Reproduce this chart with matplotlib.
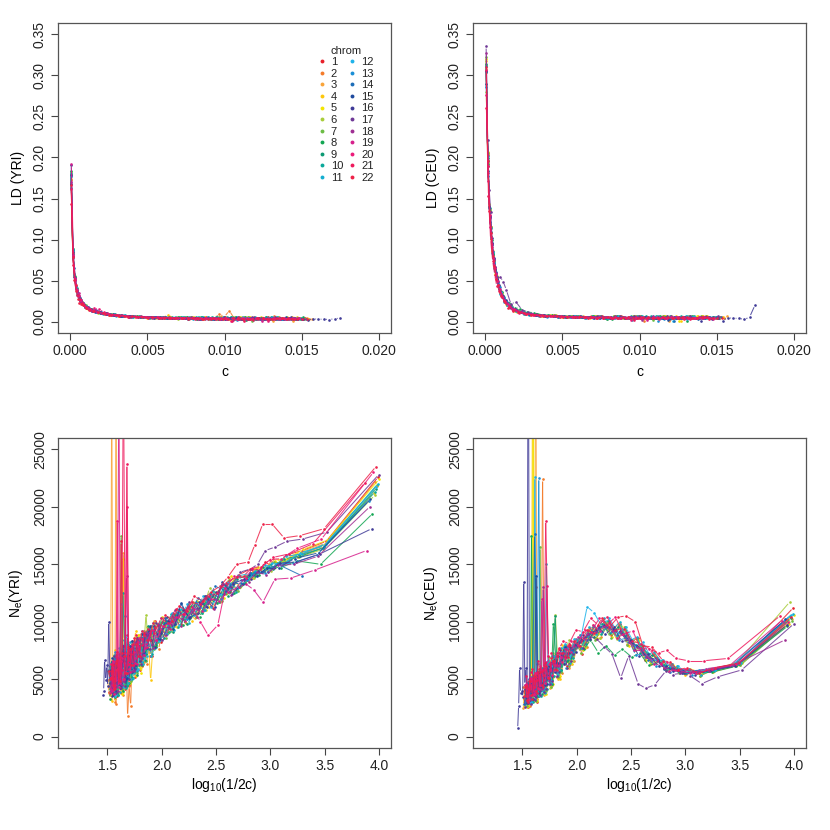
import numpy as np
import matplotlib
matplotlib.use("Agg")
import matplotlib.pyplot as plt
from matplotlib.collections import LineCollection
from matplotlib.lines import Line2D

plt.rcParams['font.family'] = ['Liberation Sans', 'DejaVu Sans']
plt.rcParams['mathtext.fontset'] = 'custom'
plt.rcParams['mathtext.rm'] = 'Liberation Sans'
plt.rcParams['mathtext.it'] = 'Liberation Sans:italic'

# %% data
chroms = [str(i) for i in range(1, 23)]
chrom_colors = ['#e8202a', '#f47b2a', '#f9a43a', '#fdc70c', '#f3e500', '#a8cd3a',
                '#6cbd45', '#12a652', '#0c9a73', '#0aa89a', '#14aed0', '#1fb3ea',
                '#1a8fd6', '#1d6db8', '#1f4a9e', '#3f3a97', '#6e3896', '#9f2f93',
                '#d6208c', '#ec1b7a', '#ee1a5d', '#ee2248']

# distance bin index (shared), bin midpoint c = (bin - 0.5) * bin width
bin_index = [1, 2, 3, 4, 5, 6, 7, 8, 10, 12, 14, 17, 20, 24, 28, 33, 38, 44, 50, 57,
             64, 72, 78, 84, 90, 96, 102, 108, 114, 120, 126, 132, 138, 144, 150]
# extra bins in between at long distances
bin_index_mid = [54, 61, 68, 75, 81, 87, 93, 99, 105, 111, 117, 123, 129, 135, 141, 147]
# bin width in c per chromosome (x 1e-4)
bin_width = [1.02, 1.08, 1.05, 1.12, 1.00, 1.10, 1.04, 1.15, 1.06, 1.09, 1.03, 1.07,
             1.25, 1.71, 1.20, 1.17, 1.01, 1.22, 1.30, 1.13, 1.35, 1.07]

# Ne estimates per bin (hundreds), one row per chromosome
ne_yri = [
    [226,170,162,158,147,152,141,146, 141,126,128,112,121,104,113,98,107,90,82,101,70,92,58,84,75,49,88,41,72,63,35,69,47,58,39],
    [222,166,158,151,152,143,146,136, 128,135,117,125,109,116,99,108,94,103,76,95,63,89,72,58,27,18,79,44,71,52,30,66,45,57],
    [218,168,161,153,155,144,147,137, 131,138,119,114,122,103,112,108,95,98,85,101,78,65,88,54,79,70,46,160,63,41,320,58,310,36,49],
    [212,164,156,154,145,147,138,140, 138,124,127,113,118,101,110,95,104,88,97,49,86,60,92,57,71,44,155,62,38,75,50,33,58],
    [224,171,163,155,153,146,148,139, 130,140,121,126,110,118,103,109,96,90,104,79,95,71,55,88,62,80,47,69,39,74,54,43,66,36,58],
    [210,163,156,153,144,146,138,139, 139,125,122,129,108,117,100,110,92,99,82,96,106,64,87,51,78,69,42,83,56,47,71,38,60],
    [219,167,160,152,152,144,145,137, 127,136,118,122,112,104,115,97,106,86,99,76,91,68,83,59,74,66,45,80,175,52,38,68,43,61],
    [194,150,153,147,148,141,142,134, 125,132,116,121,104,114,97,106,91,100,80,93,71,85,56,79,64,48,76,53,67,40,59,33],
    [216,165,157,155,146,148,140,141, 137,122,130,114,116,107,98,110,91,101,84,79,96,62,85,73,52,81,47,66,58,36,71,44,53],
    [213,164,158,150,150,143,143,136, 126,134,117,124,108,112,104,95,107,86,98,72,90,81,57,77,68,45,84,50,63,39,70,47,41],
    [220,168,159,157,148,149,142,142, 140,129,121,127,110,117,99,111,93,89,103,77,94,63,86,74,51,82,60,69,44,77,48,56,37,64],
    [217,166,160,151,151,144,144,137, 129,135,124,113,122,106,115,97,108,90,83,99,70,92,59,81,66,53,87,46,72,58,35,63,49],
    [205,158,151,150,142,143,136,136, 133,120,124,110,116,102,109,95,99,86,91,73,84,65,78,52,70,61,43,74,48,57],
    [None,140,150,143,142,134,134,127, 131,114,121,104,115,97,103,89,95,80,83,62,74,52,68,43,58],
    [207,160,155,147,147,140,141,133, 124,135,113,122,108,103,116,94,104,85,96,77,89,62,83,70,50,79,55,64,41,68,47],
    [181,159,152,151,143,144,137,137, 133,124,126,113,117,104,110,98,101,90,78,92,72,86,61,79,55,73,47,68,40,63,58,100,62,67,36],
    [228,178,172,170,165,162,150,146, 143,130,133,120,122,112,117,102,110,95,84,99,76,90,63,85,58,74,66,44,79,52,61,38,70,46,55],
    [200,157,150,149,141,143,135,136, 123,132,111,121,104,113,96,104,88,97,77,90,68,82,57,76,62,45,72,51,64,40],
    [162,145,138,137,117,128,133,130, 126,118,120,109,111,101,104,94,96,84,89,71,82,62,75,56,68,310,49,65,41],
    [230,172,164,155,154,146,146,138, 140,129,97,88,100,113,107,104,99,96,84,91,77,86,64,80,59,73,50,69,188,45,66,38],
    [221,168,159,156,148,147,140,139, 134,125,122,115,117,107,111,99,103,90,94,80,88,72,237,330,55,74,44,63],
    [235,181,175,173,185,185,167,152, 150,139,131,126,118,122,109,114,101,106,92,99,84,92,70,86,62,78,55,73,48,67,42,62,51,57],
]
ne_yri_mid = [
    [96,70,88,61,79,52,83,45,70,63,38,66,48,57,40,52],
    [80,92,65,84,57,73,44,68,36,60,50,28,62,41,55],
    [90,74,69,85,58,77,49,71,62,40,69,52,33,60,45,38],
    [83,95,72,62,80,55,73,46,66,39,58,50,31,55],
    [92,77,84,63,76,53,81,47,68,57,37,64,45,54,36,49],
    [99,81,70,86,60,74,51,67,43,63,54,35,59,41],
    [85,90,66,78,55,82,48,72,60,41,66,46,56,37,51],
    [91,72,80,58,73,47,69,40,62,53,34,57,42],
    [78,89,67,80,54,75,61,44,70,49,60,38,55,46],
    [94,76,86,62,71,50,76,42,125,55,36,64,44,52],
    [87,70,91,65,77,55,71,47,64,58,39,61,45,53,41],
    [83,93,68,75,58,79,50,68,43,115,54,37,58,45],
    [90,72,82,61,70,105,53,64,45,57,40],
    [77,62,70,50,64,42],
    [96,74,79,60,72,51,66,44,58,48,36,55],
    [84,89,66,77,56,71,48,68,42,61,52,35,57,44,49,40],
    [97,80,88,68,79,59,74,50,68,61,42,64,47,56,38,51],
    [86,71,79,57,69,140,48,62,40,56,45],
    [81,73,68,76,55,64,47,59,51,40],
    [93,78,85,63,74,56,200,50,66,43,58,37,52],
    [88,76,81,63,70,58,49,66,45],
    [95,84,90,70,81,62,76,55,70,170,48,64,41,57,50],
]

ne_ceu = [
    [112,64,60,54,58,56,63,61, 72,67,86,80,98,88,100,85,94,72,84,63,80,52,71,45,66,38,57,49,30,53,34,47,26,42,33],
    [104,63,57,57,55,60,59,66, 63,79,75,94,86,101,87,97,78,88,66,79,55,70,47,63,41,224,52,33,48,38,27,46,31,43],
    [102,62,59,53,58,56,62,60, 73,69,86,81,99,89,102,86,93,73,85,60,77,50,69,42,61,36,54,45,360,33,51,28,44,37,25],
    [98,62,56,57,54,60,58,66, 65,80,77,95,87,100,86,94,77,85,63,77,50,68,44,58,39,55,46,33,380,49,31,40,27],
    [106,64,60,55,59,56,62,59, 70,67,84,79,96,87,99,86,94,75,84,64,78,53,71,46,64,37,57,42,51,32,350,45,29,39,34],
    [117,65,58,57,55,60,59,65, 64,78,75,92,85,98,86,95,79,86,66,78,58,106,51,64,41,58,36,51,44,29,47,33,38],
    [101,62,59,53,58,55,63,60, 71,73,85,80,97,86,98,84,92,73,81,61,75,52,68,43,61,39,55,47,31,50,35,45,27,41],
    [96,61,56,56,55,59,58,64, 62,73,69,76,71,79,73,84,76,81,68,75,57,98,50,63,42,58,38,52,175,46,35,29],
    [103,63,58,55,58,57,61,62, 71,75,80,88,95,90,98,87,90,77,81,67,73,57,66,48,61,40,56,36,49,44,30,46,37],
    [105,63,57,57,55,61,60,67, 66,80,76,95,88,101,89,95,81,86,68,78,58,70,49,64,42,59,35,53,45,31,48,34,28],
    [107,64,60,54,59,56,63,61, 74,69,87,82,100,91,103,89,95,77,85,64,78,54,70,47,65,38,60,43,53,33,50,29,46,36],
    [106,64,58,58,56,61,61,67, 67,82,79,95,90,103,96,108,113,83,85,69,74,57,65,49,61,42,55,38,226,47,31,43,35],
    [100,62,58,54,58,56,62,61, 72,71,86,84,97,91,96,84,88,74,77,63,69,54,62,47,225,41,53,35,47,30],
    [None,60,57,59,60,68,67,77, 82,90,93,96,92,88,82,75,69,64,58,52,47,176,38,44,28],
    [102,62,57,56,55,60,59,67, 69,79,83,92,94,97,93,89,84,80,73,70,64,60,54,49,57,43,52,37,46,31,41],
    [97,61,58,54,57,57,61,61, 72,70,84,83,95,89,96,85,88,74,78,63,70,53,61,45,56,38,50,33,46,400,60,135,40,60,7],
    [98,58,52,46,53,55,54,57, 45,42,46,70,51,72,78,85,87,77,79,66,70,56,63,48,58,41,53,36,49,32,46,28,42,35,26],
    [84,62,57,56,56,59,60,66, 69,78,82,91,92,96,91,89,83,79,72,69,62,59,53,130,47,56,39,50,35,45],
    [101,62,59,55,58,57,63,63, 75,75,90,86,99,92,97,85,87,74,76,62,66,52,59,45,55,37,51,41,46],
    [100,63,59,55,59,58,65,64, 76,77,92,89,104,97,103,91,93,80,83,68,73,58,64,131,49,61,42,55,36,50,32,45],
    [105,68,66,66,68,75,73,75, 81,83,94,93,104,97,103,91,93,81,83,70,73,188,57,66,48,59,41,53],
    [104,64,60,55,60,58,65,66, 78,79,100,105,104,95,103,90,93,79,83,69,73,58,66,51,61,43,56,38,52,33,48,30,44,35],
]
ne_ceu_mid = [
    [80,61,72,52,66,45,60,39,55,47,130,50,31,44,27,38],
    [66,76,57,69,48,63,41,56,35,51,43,29,47,33,40],
    [78,63,58,71,47,65,40,58,50,33,54,37,45,28,41,30],
    [71,80,61,52,67,44,60,37,53,31,46,40,26,43],
    [76,65,70,51,64,43,62,37,55,46,31,49,35,42,27,38],
    [84,68,59,73,49,62,42,56,35,51,44,29,46,33],
    [70,77,56,66,46,69,40,60,165,35,53,38,45,29,41],
    [66,58,67,49,61,41,57,35,52,44,30,47,34],
    [74,79,63,105,46,63,52,37,57,40,50,32,45,38],
    [79,64,73,53,59,41,62,35,50,44,30,48,34,42],
    [75,60,77,55,65,46,150,40,53,48,33,51,37,44,30],
    [70,81,59,63,48,67,42,57,36,50,44,30,47,36],
    [74,61,70,51,58,44,63,38,52,43,33],
    [58,47,55,39,50,34],
    [78,63,67,50,60,43,55,140,48,40,30,45],
    [69,75,56,64,46,59,40,56,35,50,42,29,45,34,38,27],
    [72,60,70,53,64,46,60,39,55,49,34,51,37,44,29,40],
    [73,61,66,48,58,41,52,36,49,42,31],
    [69,62,58,65,120,54,40,50,44,35],
    [79,65,73,54,63,47,58,41,55,37,48,33,44],
    [77,66,70,54,60,49,43,56,39],
    [80,70,76,59,68,51,64,45,59,40,54,36,48,32,43],
]

# %% layout (pixels of an 830 x 830 figure)
W = 830.0
fig = plt.figure(figsize=(8.3, 8.3), dpi=100)


def panel(l, r, t, b):
    return fig.add_axes([l / W, 1 - b / W, (r - l) / W, (b - t) / W])


ax_ld_yri = panel(58, 391, 23, 333)
ax_ld_ceu = panel(473, 806, 23, 333)
ax_ne_yri = panel(58, 391, 438, 748)
ax_ne_ceu = panel(473, 806, 438, 748)

for ax in (ax_ld_yri, ax_ld_ceu):
    ax.set_xlim(-0.0008, 0.0208)
    ax.set_ylim(-0.014, 0.364)
    ax.set_xticks([0.0, 0.005, 0.010, 0.015, 0.020])
    ax.set_xticklabels(['0.000', '0.005', '0.010', '0.015', '0.020'])
    ax.set_yticks(np.arange(0, 0.36, 0.05))
    ax.set_yticklabels(['%.2f' % v for v in np.arange(0, 0.36, 0.05)])
    ax.set_xlabel('c', fontsize=10, labelpad=5)

for ax in (ax_ne_yri, ax_ne_ceu):
    ax.set_xlim(1.045, 4.11)
    ax.set_ylim(-1000, 26000)
    ax.set_xticks([1.5, 2.0, 2.5, 3.0, 3.5, 4.0])
    ax.set_xticklabels(['1.5', '2.0', '2.5', '3.0', '3.5', '4.0'])
    ax.set_yticks([0, 5000, 10000, 15000, 20000, 25000])
    ax.set_yticklabels(['0', '5000', '10000', '15000', '20000', '25000'])
    ax.set_xlabel(r'$\mathrm{log_{10}}$(1/2c)', fontsize=10, labelpad=2)

ax_ld_yri.set_ylabel('LD (YRI)', fontsize=10, labelpad=6)
ax_ld_ceu.set_ylabel('LD (CEU)', fontsize=10, labelpad=6)
ax_ne_yri.set_ylabel(r'$\mathrm{N_e}$(YRI)', fontsize=10, labelpad=6)
ax_ne_ceu.set_ylabel(r'$\mathrm{N_e}$(CEU)', fontsize=10, labelpad=6)

for ax in (ax_ld_yri, ax_ld_ceu, ax_ne_yri, ax_ne_ceu):
    for s in ax.spines.values():
        s.set_color('#555555')
        s.set_linewidth(0.9)
    ax.tick_params(direction='out', length=5, width=0.8, color='#444444',
                   labelsize=10, labelcolor='#222222', pad=3)
    ax.tick_params(axis='y', labelrotation=90)
    for lab in ax.get_yticklabels():
        lab.set_va('center')


def gapped_lines(ax, x, y, col, gap=2.3):
    # R type="b": segments stop short of each point
    pts = ax.transData.transform(np.column_stack([x, y]))
    segs = []
    for p, q in zip(pts[:-1], pts[1:]):
        if not (np.all(np.isfinite(p)) and np.all(np.isfinite(q))):
            continue
        d = q - p
        L = np.hypot(d[0], d[1])
        if L <= 2 * gap:
            continue
        u = d / L
        segs.append([p + u * gap, q - u * gap])
    if not segs:
        return
    segs = np.array(segs)
    segs = ax.transData.inverted().transform(segs.reshape(-1, 2)).reshape(-1, 2, 2)
    ax.add_collection(LineCollection(segs, colors=col, linewidths=0.75, alpha=0.85))


def draw(ax, x, y, col):
    gapped_lines(ax, x, y, col)
    ax.plot(x, y, ls='none', marker='o', ms=1.9, mec='none', mfc=col)


for i in range(len(chroms)):
    col = chrom_colors[i]
    for main, mid, ax_ld, ax_ne in ((ne_yri, ne_yri_mid, ax_ld_yri, ax_ne_yri),
                                    (ne_ceu, ne_ceu_mid, ax_ld_ceu, ax_ne_ceu)):
        k = np.array(bin_index[:len(main[i])] + bin_index_mid[:len(mid[i])], dtype=float)
        ne = np.array(main[i] + mid[i], dtype=float) * 100
        order = np.argsort(k, kind='stable')
        k, ne = k[order], ne[order]
        c = (k - 0.5) * bin_width[i] * 1e-4
        ld = 1.0 / (1.0 + 4.0 * ne * c)
        draw(ax_ld, c, ld, col)
        draw(ax_ne, np.log10(1.0 / (2.0 * c)), ne, col)

handles = [Line2D([], [], ls='none', marker='o', ms=2.8, mec='none', mfc=col)
           for col in chrom_colors]
leg = ax_ld_yri.legend(handles, chroms, ncol=2, title='chrom', frameon=False,
                       loc='upper left', bbox_to_anchor=(0.757, 0.952),
                       fontsize=8, title_fontsize=8, handlelength=0.7,
                       handletextpad=0.45, columnspacing=0.5, labelspacing=0.14,
                       borderpad=0.2)
for t in leg.get_texts():
    t.set_color('#222222')
leg.get_title().set_color('#222222')

fig.savefig('out.png', dpi=100)
